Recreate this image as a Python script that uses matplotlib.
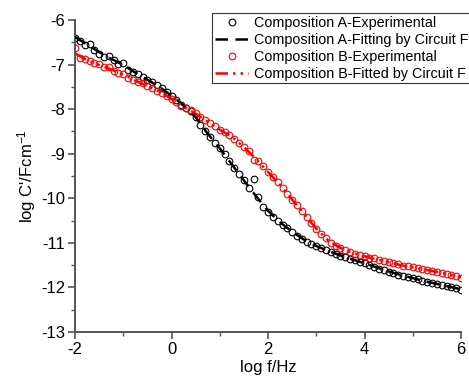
import numpy as np
import matplotlib
matplotlib.use("Agg")
import matplotlib.pyplot as plt
from matplotlib.ticker import MultipleLocator

plt.rcParams['font.family'] = ['Liberation Sans', 'DejaVu Sans']
plt.rcParams['mathtext.fontset'] = 'custom'
plt.rcParams['mathtext.rm'] = 'Liberation Sans'
plt.rcParams['mathtext.it'] = 'Liberation Sans:italic'
plt.rcParams['axes.unicode_minus'] = False

# log f grid of the measured points (0.1 decade steps)
log_f = [round(-2.0 + 0.1 * i, 1) for i in range(81)]

# Composition A - experimental
a_exp = [-6.40, -6.47, -6.56, -6.54, -6.67, -6.77, -6.83, -6.81, -6.90, -6.99,
         -6.96, -7.12, -7.17, -7.21, -7.28, -7.35, -7.40, -7.46, -7.53, -7.61,
         -7.70, -7.79, -7.90, -7.97, -8.05, -8.17, -8.36, -8.48, -8.62, -8.75,
         -8.87, -9.00, -9.16, -9.33, -9.45, -9.60, -9.77, -9.57, -9.98, -10.20,
         -10.31, -10.42, -10.50, -10.59, -10.66, -10.76, -10.84, -10.91, -10.97, -11.02,
         -11.07, -11.12, -11.16, -11.21, -11.25, -11.29, -11.32, -11.36, -11.39, -11.43,
         -11.46, -11.50, -11.54, -11.58, -11.61, -11.65, -11.68, -11.71, -11.74, -11.77,
         -11.79, -11.82, -11.85, -11.87, -11.90, -11.92, -11.95, -11.97, -12.00, -12.02,
         -12.05]

# Composition B - experimental
b_exp = [-6.63, -6.85, -6.88, -6.93, -6.97, -6.99, -7.05, -7.06, -7.14, -7.19,
         -7.21, -7.30, -7.35, -7.39, -7.41, -7.48, -7.53, -7.59, -7.64, -7.71,
         -7.77, -7.85, -7.92, -7.98, -8.03, -8.09, -8.18, -8.25, -8.31, -8.38,
         -8.46, -8.52, -8.58, -8.66, -8.75, -8.86, -8.94, -9.14, -9.16, -9.28,
         -9.41, -9.52, -9.64, -9.76, -9.90, -10.03, -10.15, -10.28, -10.42, -10.56,
         -10.70, -10.80, -10.90, -11.00, -11.07, -11.11, -11.16, -11.20, -11.24, -11.27,
         -11.30, -11.33, -11.35, -11.38, -11.41, -11.43, -11.46, -11.48, -11.51, -11.53,
         -11.55, -11.57, -11.59, -11.61, -11.63, -11.65, -11.68, -11.70, -11.72, -11.75,
         -11.78]

# fitted curves (circuit F)
log_f_fit = [-2.0, -1.75, -1.5, -1.25, -1.0, -0.75, -0.5, -0.25, 0.0, 0.25, 0.5,
             0.75, 1.0, 1.25, 1.5, 1.75, 2.0, 2.25, 2.5, 2.75, 3.0, 3.25, 3.5,
             3.75, 4.0, 4.25, 4.5, 4.75, 5.0, 5.25, 5.5, 5.75, 6.0]
a_fit = [-6.38, -6.55, -6.72, -6.87, -7.01, -7.18, -7.34, -7.50, -7.70, -7.92, -8.18,
         -8.55, -8.88, -9.24, -9.60, -9.95, -10.28, -10.54, -10.75, -10.93, -11.07, -11.18,
         -11.28, -11.37, -11.46, -11.55, -11.64, -11.72, -11.79, -11.86, -11.92, -11.98, -12.04]
b_fit = [-6.75, -6.90, -7.01, -7.11, -7.22, -7.36, -7.48, -7.61, -7.77, -7.95, -8.10,
         -8.28, -8.46, -8.62, -8.85, -9.12, -9.41, -9.70, -10.03, -10.35, -10.68, -10.95,
         -11.11, -11.22, -11.30, -11.37, -11.43, -11.50, -11.55, -11.60, -11.65, -11.71, -11.77]

fig = plt.figure(figsize=(4.69, 3.92), dpi=100)
ax = fig.add_axes([0.160, 0.153, 0.823, 0.796])

ax.plot(log_f, a_exp, 'o', ms=4.8, mfc='none', mec='black', mew=0.8,
        label='Composition A-Experimental', zorder=2)
ax.plot(log_f_fit, a_fit, color='black', lw=1.8, dashes=(5, 3),
        label='Composition A-Fitting by Circuit F', zorder=3)
ax.plot(log_f, b_exp, 'o', ms=4.8, mfc='none', mec='red', mew=0.8,
        label='Composition B-Experimental', zorder=2)
ax.plot(log_f_fit, b_fit, color='red', lw=1.8, dashes=(5, 2, 1, 2, 1, 2),
        label='Composition B-Fitted by Circuit F', zorder=3)

ax.set_xlim(-2, 6)
ax.set_ylim(-13, -6)
ax.xaxis.set_major_locator(MultipleLocator(2))
ax.xaxis.set_minor_locator(MultipleLocator(1))
ax.yaxis.set_major_locator(MultipleLocator(1))
ax.yaxis.set_minor_locator(MultipleLocator(0.5))

for side in ['top', 'right']:
    ax.spines[side].set_visible(False)
for side in ['left', 'bottom']:
    ax.spines[side].set_color('#555555')
    ax.spines[side].set_linewidth(1.4)

ax.tick_params(which='major', direction='out', length=5, width=1.2,
               color='#555555', labelsize=12, pad=2)
ax.tick_params(which='minor', direction='out', length=3, width=1.0, color='#555555')

ax.set_xlabel('log f/Hz', fontsize=12, labelpad=2)
ax.set_ylabel("log C'/Fcm$^{-1}$", fontsize=12, labelpad=2)

leg = ax.legend(loc='upper left', bbox_to_anchor=(212 / 469, 1 - 13 / 392),
                bbox_transform=fig.transFigure, fontsize=10.4, frameon=True,
                fancybox=False, edgecolor='black', borderpad=0.2,
                labelspacing=0.2, handlelength=2.3, handletextpad=0.4,
                borderaxespad=0)
leg.get_frame().set_linewidth(0.8)

fig.savefig('out.png', dpi=100)
